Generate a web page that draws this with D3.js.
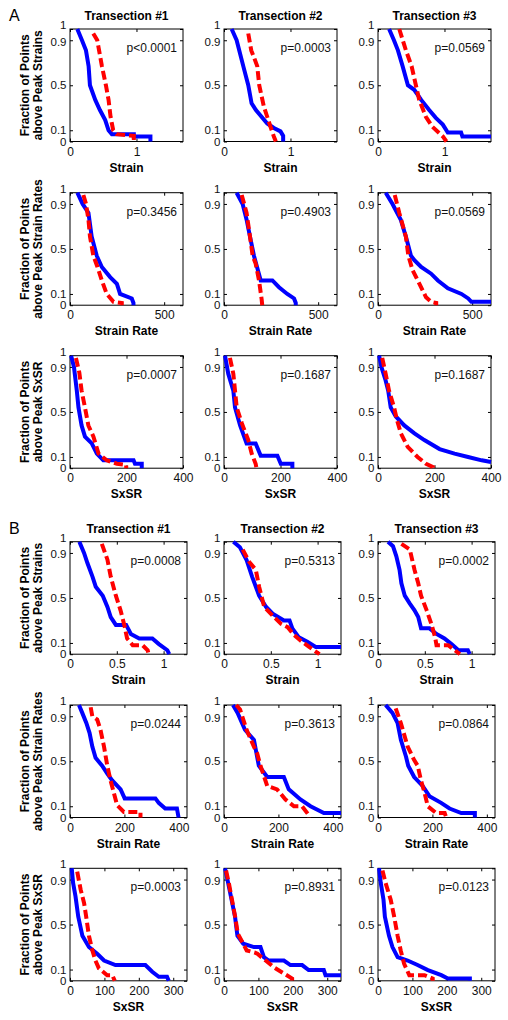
<!DOCTYPE html>
<html><head><meta charset="utf-8">
<script src="https://cdn.jsdelivr.net/npm/d3@7"></script>
<style>body{margin:0;background:#fff}svg text{font-family:"Liberation Sans",Arial,sans-serif}</style>
</head><body><svg id="c" width="508" height="1020"></svg>
<script>
// ---------------- DATA ----------------
const groupLetters = ["A", "B"];
const transections = ["Transection #1", "Transection #2", "Transection #3"];
const measures = ["Strain", "Strain Rate", "SxSR"];
const yLabelLine1 = "Fraction of Points";
const yLabelLine2 = ["above Peak Strains", "above Peak Strain Rates", "above Peak SxSR"];
const yTicks = [0, 0.1, 0.5, 0.9, 1];
const xMaxA = [1.7, 600, 400];
const xMaxB = [1.25, 430, 340];
const xTicksA = [[0, 1], [0, 500], [0, 200, 400]];
const xTicksB = [[0, 0.5, 1], [0, 200, 400], [0, 100, 200, 300]];
const pValuesA = [["p<0.0001", "p=0.0003", "p=0.0569"], ["p=0.3456", "p=0.4903", "p=0.0569"], ["p=0.0007", "p=0.1687", "p=0.1687"]];
const pValuesB = [["p=0.0008", "p=0.5313", "p=0.0002"], ["p=0.0244", "p=0.3613", "p=0.0864"], ["p=0.0003", "p=0.8931", "p=0.0123"]];

// curves: [value, fraction above]
const A_strain_T1_blue = [[0.11,1],[0.18,0.9],[0.24,0.81],[0.28,0.67],[0.30,0.5],[0.38,0.37],[0.45,0.28],[0.53,0.19],[0.58,0.1],[0.63,0.065],[0.96,0.065],[0.96,0.045],[1.21,0.045],[1.21,0]];
const A_strain_T1_red = [[0.35,0.96],[0.41,0.9],[0.48,0.67],[0.54,0.5],[0.58,0.37],[0.61,0.22],[0.65,0.1],[0.70,0.065],[0.96,0.05],[0.96,0]];
const A_strain_T2_blue = [[0.115,1],[0.19,0.9],[0.29,0.67],[0.365,0.5],[0.415,0.34],[0.48,0.28],[0.65,0.16],[0.75,0.12],[0.85,0.09],[0.89,0.05],[0.89,0]];
const A_strain_T2_red = [[0.365,0.96],[0.41,0.81],[0.45,0.75],[0.5,0.67],[0.53,0.5],[0.6,0.31],[0.65,0.22],[0.7,0.13],[0.75,0.045],[0.78,0]];
const A_strain_T3_blue = [[0.167,1],[0.24,0.9],[0.30,0.81],[0.37,0.67],[0.45,0.5],[0.545,0.46],[0.65,0.37],[0.77,0.28],[0.87,0.21],[0.975,0.15],[1.05,0.08],[1.25,0.08],[1.27,0.045],[1.7,0.045]];
const A_strain_T3_red = [[0.32,1],[0.42,0.81],[0.505,0.67],[0.57,0.5],[0.62,0.37],[0.72,0.22],[0.82,0.13],[0.975,0.045],[1.03,0]];

const A_rate_T1_blue = [[39,1],[67,0.9],[98,0.82],[115,0.61],[142,0.44],[169,0.34],[213,0.25],[249,0.19],[266,0.1],[328,0.06],[337,0.02],[337,0]];
const A_rate_T1_red = [[71,0.98],[85,0.9],[98,0.76],[106,0.61],[124,0.44],[146,0.34],[169,0.22],[195,0.1],[231,0.03],[275,0.02],[275,0]];
const A_rate_T2_blue = [[67,1],[99,0.9],[120,0.76],[138,0.61],[159,0.44],[195,0.22],[257,0.22],[292,0.16],[336,0.1],[372,0.06],[381,0.02],[381,0]];
const A_rate_T2_red = [[94,0.98],[120,0.82],[138,0.61],[152,0.44],[168,0.37],[186,0.22],[200,0.05],[203,0]];
const A_rate_T3_blue = [[41,1],[77,0.9],[121,0.76],[148,0.61],[175,0.44],[193,0.4],[229,0.34],[282,0.28],[318,0.22],[371,0.15],[443,0.1],[479,0.06],[496,0.03],[600,0.03]];
const A_rate_T3_red = [[89,0.98],[113,0.82],[148,0.61],[161,0.44],[184,0.31],[220,0.19],[255,0.07],[282,0.03],[309,0.02],[309,0]];

const A_sxsr_T1_blue = [[4,1],[14,0.9],[24,0.69],[30,0.54],[41,0.38],[53,0.28],[77,0.22],[95,0.13],[118,0.07],[225,0.07],[230,0.04],[254,0.04],[254,0]];
const A_sxsr_T1_red = [[21,0.98],[33,0.85],[41,0.69],[53,0.54],[65,0.38],[83,0.28],[101,0.13],[130,0.07],[166,0.04],[199,0.03],[199,0]];
const A_sxsr_T2_blue = [[3.5,1],[15,0.84],[33,0.69],[39,0.54],[57,0.38],[80,0.22],[112,0.22],[130,0.11],[189,0.11],[201,0.04],[242,0.04],[242,0]];
const A_sxsr_T2_red = [[21,0.98],[33,0.84],[39,0.69],[45,0.54],[63,0.4],[86,0.25],[98,0.13],[112,0.04],[115,0]];
const A_sxsr_T3_blue = [[4,1],[12,0.9],[27,0.78],[36,0.69],[45,0.54],[63,0.46],[93,0.38],[129,0.31],[164,0.25],[218,0.17],[271,0.13],[319,0.1],[367,0.07],[400,0.055]];
const A_sxsr_T3_red = [[15,0.98],[27,0.84],[39,0.69],[57,0.54],[67,0.43],[81,0.31],[105,0.19],[140,0.1],[170,0.04],[194,0.01],[194,0]];

const B_strain_T1_blue = [[0.10,1],[0.15,0.9],[0.186,0.81],[0.24,0.69],[0.275,0.6],[0.35,0.52],[0.40,0.42],[0.435,0.33],[0.49,0.26],[0.6,0.26],[0.65,0.18],[0.74,0.14],[0.88,0.14],[0.95,0.09],[1.04,0.035],[1.06,0]];
const B_strain_T1_red = [[0.34,0.98],[0.40,0.84],[0.435,0.69],[0.49,0.52],[0.54,0.39],[0.58,0.26],[0.61,0.14],[0.67,0.08],[0.775,0.08],[0.83,0.035],[0.84,0]];
const B_strain_T2_blue = [[0.1,1],[0.17,0.95],[0.24,0.84],[0.3,0.69],[0.375,0.52],[0.45,0.42],[0.52,0.36],[0.64,0.30],[0.70,0.30],[0.73,0.23],[0.80,0.15],[0.89,0.11],[0.98,0.065],[1.25,0.065]];
const B_strain_T2_red = [[0.2,0.93],[0.27,0.82],[0.34,0.75],[0.375,0.6],[0.43,0.42],[0.535,0.33],[0.61,0.27],[0.68,0.24],[0.75,0.17],[0.82,0.12],[0.91,0.065],[1.02,0]];
const B_strain_T3_blue = [[0.107,1],[0.16,0.96],[0.196,0.87],[0.23,0.75],[0.25,0.63],[0.286,0.52],[0.34,0.45],[0.39,0.39],[0.43,0.33],[0.46,0.23],[0.55,0.23],[0.625,0.18],[0.71,0.14],[0.785,0.09],[0.86,0.035],[0.96,0.035],[0.98,0]];
const B_strain_T3_red = [[0.25,0.98],[0.34,0.93],[0.39,0.75],[0.43,0.63],[0.46,0.52],[0.52,0.39],[0.57,0.27],[0.61,0.15],[0.625,0.08],[0.75,0.08],[0.82,0.035],[0.875,0]];

const B_rate_T1_blue = [[33,1],[45,0.93],[60,0.84],[72,0.75],[82,0.63],[94,0.53],[118,0.46],[137,0.39],[155,0.33],[186,0.25],[201,0.17],[314,0.17],[326,0.13],[350,0.08],[393,0.08],[399,0]];
const B_rate_T1_red = [[76,0.98],[82,0.9],[100,0.87],[112,0.78],[125,0.63],[137,0.46],[149,0.33],[161,0.22],[173,0.11],[198,0.05],[259,0.05],[259,0]];
const B_rate_T2_blue = [[33,1],[50,0.93],[77,0.78],[110,0.69],[128,0.46],[159,0.36],[220,0.36],[238,0.25],[281,0.16],[318,0.1],[367,0.04],[430,0.04]];
const B_rate_T2_red = [[45,1],[59,0.96],[83,0.78],[110,0.63],[122,0.57],[134,0.46],[159,0.28],[195,0.25],[226,0.16],[257,0.1],[287,0.1],[312,0.02],[312,0]];
const B_rate_T3_blue = [[28,1],[53,0.93],[72,0.84],[84,0.69],[103,0.54],[111,0.46],[133,0.36],[164,0.28],[189,0.19],[232,0.13],[263,0.08],[306,0.04],[356,0.04],[356,0]];
const B_rate_T3_red = [[65,0.97],[84,0.84],[109,0.63],[133,0.51],[146,0.46],[158,0.33],[171,0.22],[183,0.1],[214,0.04],[245,0.04],[251,0]];

const B_sxsr_T1_blue = [[5,1],[9,0.87],[16,0.75],[24,0.57],[36,0.40],[55,0.30],[79,0.24],[99,0.18],[132,0.14],[219,0.14],[239,0.08],[258,0.035],[282,0.035],[287,0]];
const B_sxsr_T1_red = [[21,0.97],[31,0.81],[41,0.69],[47,0.57],[55,0.40],[65,0.27],[74,0.18],[84,0.11],[108,0.05],[123,0.05],[130,0]];
const B_sxsr_T2_blue = [[3,1],[12,0.87],[32,0.57],[39,0.40],[56,0.33],[87,0.30],[106,0.30],[116,0.21],[130,0.18],[174,0.18],[193,0.14],[227,0.14],[246,0.095],[290,0.095],[295,0.05],[340,0.05]];
const B_sxsr_T2_red = [[6,0.98],[14,0.87],[33,0.56],[40,0.42],[66,0.27],[90,0.25],[97,0.24],[121,0.18],[145,0.12],[174,0.065],[198,0.02],[198,0]];
const B_sxsr_T3_blue = [[3,1],[8,0.87],[16,0.72],[20,0.57],[32,0.40],[42,0.30],[57,0.21],[86,0.18],[115,0.14],[145,0.095],[184,0.05],[203,0.02],[267,0.02],[267,0]];
const B_sxsr_T3_red = [[13,0.98],[22,0.87],[37,0.72],[47,0.57],[57,0.40],[66,0.27],[76,0.15],[91,0.05],[135,0.05],[159,0.02],[159,0]];

const curvesA = [
  [[A_strain_T1_blue, A_strain_T1_red], [A_strain_T2_blue, A_strain_T2_red], [A_strain_T3_blue, A_strain_T3_red]],
  [[A_rate_T1_blue, A_rate_T1_red], [A_rate_T2_blue, A_rate_T2_red], [A_rate_T3_blue, A_rate_T3_red]],
  [[A_sxsr_T1_blue, A_sxsr_T1_red], [A_sxsr_T2_blue, A_sxsr_T2_red], [A_sxsr_T3_blue, A_sxsr_T3_red]]
];
const curvesB = [
  [[B_strain_T1_blue, B_strain_T1_red], [B_strain_T2_blue, B_strain_T2_red], [B_strain_T3_blue, B_strain_T3_red]],
  [[B_rate_T1_blue, B_rate_T1_red], [B_rate_T2_blue, B_rate_T2_red], [B_rate_T3_blue, B_rate_T3_red]],
  [[B_sxsr_T1_blue, B_sxsr_T1_red], [B_sxsr_T2_blue, B_sxsr_T2_red], [B_sxsr_T3_blue, B_sxsr_T3_red]]
];

// ---------------- LAYOUT ----------------
const svg = d3.select("#c");
const FONT = '"Liberation Sans", Arial, sans-serif';
const groups = [
  {letter: groupLetters[0], letterY: 21, titleY: 20, lefts: [70, 224, 378], w: 113, tops: [29, 192.7, 355.7], h: 112.5, xMax: xMaxA, xTicks: xTicksA, p: pValuesA, curves: curvesA},
  {letter: groupLetters[1], letterY: 534, titleY: 532.5, lefts: [70, 224, 378], w: 117, tops: [541.7, 705, 868.3], h: 112.5, xMax: xMaxB, xTicks: xTicksB, p: pValuesB, curves: curvesB}
];
const fmt = d3.format("~g");
const line = (x, y) => d3.line().x(d => x(d[0])).y(d => y(d[1]));

groups.forEach(G => {
  svg.append("text").attr("x", 9).attr("y", G.letterY).attr("font-size", 16).attr("font-family", FONT).text(G.letter);
  G.lefts.forEach((left, c) => {
    svg.append("text").attr("x", left + G.w / 2).attr("y", G.titleY).attr("text-anchor", "middle")
      .attr("font-size", 12).attr("font-weight", "bold").attr("font-family", FONT).text(transections[c]);
  });
  G.tops.forEach((top, r) => {
    const cy = top + G.h / 2;
    const yl = svg.append("g").attr("transform", `translate(0,${cy})`);
    yl.append("text").attr("transform", "translate(28.5,0) rotate(-90)").attr("text-anchor", "middle")
      .attr("font-size", 12).attr("font-weight", "bold").attr("font-family", FONT).text(yLabelLine1);
    yl.append("text").attr("transform", "translate(42,0) rotate(-90)").attr("text-anchor", "middle")
      .attr("font-size", 12).attr("font-weight", "bold").attr("font-family", FONT).text(yLabelLine2[r]);

    G.lefts.forEach((left, c) => {
      const g = svg.append("g").attr("transform", `translate(${left},${top})`);
      const x = d3.scaleLinear().domain([0, G.xMax[r]]).range([0, G.w]);
      const y = d3.scaleLinear().domain([0, 1]).range([G.h, 0]);
      const styleAxis = sel => { sel.select(".domain").remove(); sel.attr("font-size", 12).attr("font-family", FONT);
        sel.selectAll("line").attr("stroke", "#000"); sel.selectAll("text").attr("fill", "#111"); };
      g.append("g").attr("transform", `translate(0,${G.h})`)
        .call(d3.axisBottom(x).tickValues(G.xTicks[r]).tickFormat(fmt).tickSizeInner(-3).tickSizeOuter(0).tickPadding(5.5)).call(styleAxis);
      g.append("g").call(d3.axisTop(x).tickValues(G.xTicks[r]).tickFormat("").tickSizeInner(-3).tickSizeOuter(0)).call(styleAxis);
      const la = g.append("g").call(d3.axisLeft(y).tickValues(yTicks).tickFormat(fmt).tickSizeInner(-3).tickSizeOuter(0).tickPadding(3.5)).call(styleAxis);
      la.selectAll("text").attr("font-size", 11.5).filter(d => d === 1).attr("dy", "-0.05em");
      la.selectAll("text").filter(d => d === 0.9).attr("dy", "0.42em");
      g.append("g").attr("transform", `translate(${G.w},0)`)
        .call(d3.axisRight(y).tickValues(yTicks).tickFormat("").tickSizeInner(-3).tickSizeOuter(0)).call(styleAxis);
      g.append("rect").attr("width", G.w).attr("height", G.h).attr("fill", "none").attr("stroke", "#000").attr("stroke-width", 1);

      const [blue, red] = G.curves[r][c];
      g.append("path").datum(blue).attr("d", line(x, y)).attr("fill", "none").attr("stroke", "#0000ff")
        .attr("stroke-width", 4).attr("stroke-linejoin", "miter");
      g.append("path").datum(red).attr("d", line(x, y)).attr("fill", "none").attr("stroke", "#ff0000")
        .attr("stroke-width", 4).attr("stroke-dasharray", "9,4");

      g.append("text").attr("x", G.w - 6).attr("y", 23).attr("text-anchor", "end")
        .attr("font-size", 12).attr("font-family", FONT).attr("fill", "#111").text(G.p[r][c]);
      g.append("text").attr("x", G.w / 2).attr("y", G.h + 30).attr("text-anchor", "middle")
        .attr("font-size", 12).attr("font-weight", "bold").attr("font-family", FONT).text(measures[r]);
    });
  });
});
</script></body></html>
